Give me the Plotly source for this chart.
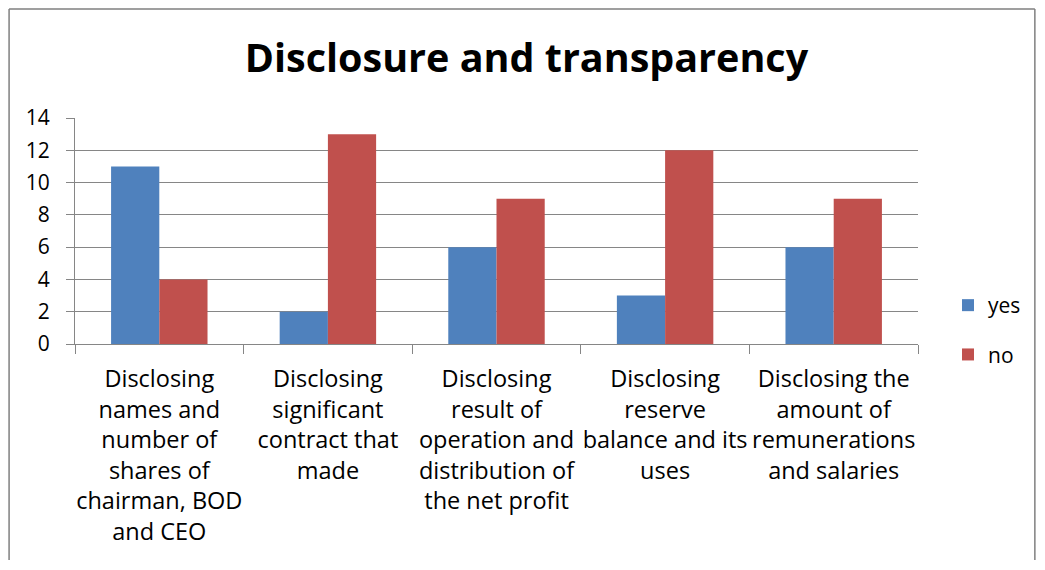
import plotly.graph_objects as go

categories = [
    "Disclosing<br>names and<br>number of<br>shares of<br>chairman, BOD<br>and CEO",
    "Disclosing<br>significant<br>contract that<br>made",
    "Disclosing<br>result of<br>operation and<br>distribution of<br>the net profit",
    "Disclosing<br>reserve<br>balance and its<br>uses",
    "Disclosing the<br>amount of<br>remunerations<br>and salaries",
]
yes_values = [11, 2, 6, 3, 6]
no_values = [4, 13, 9, 12, 9]
y_ticks = [0, 2, 4, 6, 8, 10, 12, 14]

FONT = "Open Sans"
GRID = "#868686"

fig = go.Figure()
fig.add_trace(go.Bar(name="yes", x=categories, y=yes_values, marker_color="#4F81BD",
                     marker_line_width=0, legendgroup="a"))
fig.add_trace(go.Bar(name="no", x=categories, y=no_values, marker_color="#C0504D",
                     marker_line_width=0, legendgroup="b"))

# page body has an 8px margin: figure pixel = screen pixel - 8; keep page inside the window
OFF = 8
W, H = 1045 - 2 * OFF, 570 - 2 * OFF - 2
L, T = 75 - OFF, 118 - OFF
R = W - (919 - OFF)
B = H - (344 - OFF)
pw, ph = W - L - R, H - T - B

def px_x(p):
    return (p - OFF - L) / pw

def px_y(p):
    return (H - B - (p - OFF)) / ph

fig.update_layout(
    width=W, height=H,
    margin=dict(l=L, r=R, t=T, b=B),
    paper_bgcolor="white", plot_bgcolor="white",
    font=dict(family=FONT, size=23, color="black"),
    title=dict(text="<b>Disclosure and transparency</b>", x=px_x(527), xanchor="center",
               xref="paper", y=1 - (58 - OFF) / H, yanchor="middle",
               font=dict(size=39.5, family=FONT, color="black")),
    barmode="group", bargap=0.428, bargroupgap=0,
    legend=dict(x=px_x(948), y=px_y(285), xanchor="left", yanchor="top",
                font=dict(size=21, family=FONT), traceorder="grouped", tracegroupgap=19,
                itemwidth=30, bgcolor="rgba(0,0,0,0)"),
    showlegend=True,
)
fig.update_xaxes(type="category", showline=True, linecolor=GRID, linewidth=1,
                 ticks="outside", tickson="boundaries", ticklen=9, tickcolor=GRID,
                 showgrid=False, tickangle=0, ticklabelstandoff=14,
                 tickfont=dict(size=23.5, family=FONT))
fig.update_yaxes(range=[0, 14], tickvals=y_ticks, showline=True, linecolor=GRID, linewidth=1,
                 ticks="outside", ticklen=8, tickcolor=GRID, showgrid=True, gridcolor=GRID,
                 gridwidth=1, zeroline=False, ticklabelstandoff=12,
                 tickfont=dict(size=21, family=FONT))

# outer chart border (cut-off frame)
BC = "#7f7f7f"
fig.add_shape(type="line", xref="paper", yref="paper", x0=px_x(9), x1=px_x(9),
              y0=px_y(9), y1=px_y(600), line=dict(color=BC, width=1.5))
fig.add_shape(type="line", xref="paper", yref="paper", x0=px_x(9), x1=px_x(1036),
              y0=px_y(9), y1=px_y(9), line=dict(color=BC, width=1.5))
fig.add_shape(type="line", xref="paper", yref="paper", x0=px_x(1036), x1=px_x(1036),
              y0=px_y(9), y1=px_y(600), line=dict(color=BC, width=1.5))

fig.write_html("out.html")
